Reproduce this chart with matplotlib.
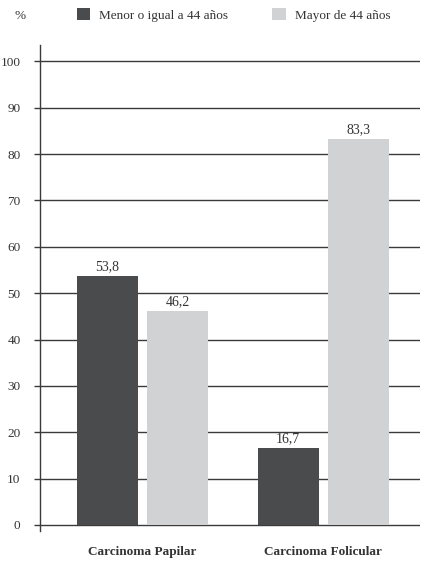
import numpy as np
import matplotlib
matplotlib.use("Agg")
import matplotlib.pyplot as plt

plt.rcParams["font.family"] = ["Liberation Serif", "DejaVu Serif"]

categorias = ["Carcinoma Papilar", "Carcinoma Folicular"]
series = ["Menor o igual a 44 años", "Mayor de 44 años"]
menor_44 = [53.8, 16.7]
mayor_44 = [46.2, 83.3]
colores = ["#4a4b4d", "#d1d2d4"]

fig = plt.figure(figsize=(4.27, 5.63), dpi=100)
ax = fig.add_axes([0.0937, 0.0568, 0.8899, 0.8632])

x = np.arange(len(categorias))
ancho = 0.338
desp = 0.194

# grid detras de las barras
for v in range(0, 101, 10):
    ax.axhline(v, color="#3a3a3a", lw=1.0, zorder=1)

b1 = ax.bar(x - desp, menor_44, ancho, color=colores[0], zorder=2, label=series[0])
b2 = ax.bar(x + desp, mayor_44, ancho, color=colores[1], zorder=2, label=series[1])

for barras, vals in [(b1, menor_44), (b2, mayor_44)]:
    for b, v in zip(barras, vals):
        ax.text(b.get_x() + b.get_width() / 2, v + 0.6, f"{v:.1f}".replace(".", ","),
                ha="center", va="bottom", fontsize=10, color="#333333")

ax.set_xlim(-0.568, 1.537)
ax.set_ylim(-1.3, 103.5)
ax.set_yticks(range(0, 101, 10))
ax.tick_params(axis="y", length=4, width=1, color="#3a3a3a", labelsize=9.5,
               labelcolor="#333333", pad=10)
ax.set_xticks(x)
ax.set_xticklabels(categorias, fontweight="bold", fontsize=9.5, color="#333333")
ax.tick_params(axis="x", length=0, pad=11)

for s in ["top", "right", "bottom"]:
    ax.spines[s].set_visible(False)
ax.spines["left"].set_color("#3a3a3a")
ax.spines["left"].set_linewidth(1.0)

fig.text(0.035, 0.972, "%", fontsize=9.5, color="#333333", va="center")
fig.legend(handles=[b1, b2], loc="center", bbox_to_anchor=(0.547, 0.973), ncol=2,
           frameon=False, fontsize=9.5, handlelength=1.0, handleheight=1.0,
           columnspacing=3.36, handletextpad=0.7, labelcolor="#333333")

fig.savefig("out.png", dpi=100)
